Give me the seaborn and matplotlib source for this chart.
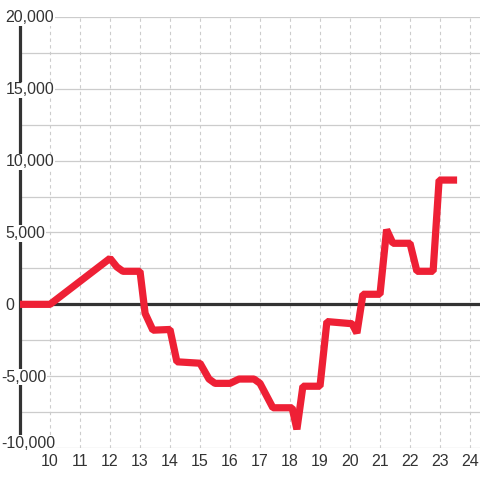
import matplotlib
matplotlib.use("Agg")
import matplotlib.pyplot as plt
import matplotlib.transforms as mtransforms
import seaborn as sns
import pandas as pd

hours = [9, 10, 12, 12.23, 12.43, 13, 13.17, 13.43, 14, 14.23, 15, 15.3, 15.5,
         16, 16.3, 16.8, 17, 17.43, 18.07, 18.23, 18.43, 19, 19.23, 20.07,
         20.23, 20.43, 21, 21.22, 21.43, 22, 22.23, 22.77, 22.97, 23.57]
values = [0, 0, 3200, 2600, 2300, 2300, -630, -1800, -1750, -4000, -4100, -5200,
          -5500, -5500, -5200, -5200, -5500, -7200, -7200, -8700, -5700, -5700,
          -1200, -1350, -2000, 700, 700, 5200, 4250, 4250, 2300, 2300, 8650, 8650]
x_ticks = list(range(10, 25))
y_grid = list(range(-10000, 20001, 2500))
y_labels = [20000, 15000, 10000, 5000, 0, -5000, -10000]

df = pd.DataFrame({"hour": hours, "value": values})

sns.set_theme(style="white")
plt.rcParams["font.family"] = ["Liberation Sans", "DejaVu Sans"]

fig = plt.figure(figsize=(4.8, 4.8), dpi=100, facecolor="white")
ax = fig.add_axes([20 / 480, 1 - 448 / 480, 1 - 20 / 480, (448 - 17) / 480])
ax.set_facecolor("white")

ax.set_xlim(9, 9 + 460 / 30)
ax.set_ylim(-10000, 20000)

ax.set_yticks(y_grid)
ax.set_yticklabels([])
ax.set_xticks(x_ticks)
ax.set_xticklabels([str(t) for t in x_ticks], fontsize=11.5, color="#333333")
ax.tick_params(axis="both", length=0)
ax.tick_params(axis="x", pad=4.5)
ax.grid(axis="y", color="#cccccc", linewidth=0.9, linestyle="-")
ax.grid(axis="x", color="#cccccc", linewidth=0.8, linestyle=(0, (3, 3)))
ax.set_axisbelow(True)

for s in ["top", "right", "bottom"]:
    ax.spines[s].set_visible(False)
ax.spines["left"].set_color("#333333")
ax.spines["left"].set_linewidth(2.3)
ax.spines["left"].set_zorder(3)

ax.axhline(0, color="#333333", linewidth=2.3, zorder=3)

sns.lineplot(data=df, x="hour", y="value", ax=ax, color="#ee2035",
             linewidth=5.2, zorder=4, solid_joinstyle="bevel",
             solid_capstyle="butt")
ax.set_xlabel("")
ax.set_ylabel("")

trans = mtransforms.blended_transform_factory(fig.transFigure, ax.transData)
for v in y_labels:
    xpos = (1.5 if v < 0 else 5.5) / 480
    dy = 5.5 if v != -10000 else -0.5
    t = trans + mtransforms.ScaledTranslation(0, -dy / 100, fig.dpi_scale_trans)
    ax.text(xpos, v, f"{v:,}", transform=t, ha="left", va="baseline",
            fontsize=11.5, color="#333333", zorder=6, clip_on=False,
            bbox=dict(facecolor="white", edgecolor="none", pad=0.5))

fig.savefig("out.png", dpi=100, facecolor="white")
